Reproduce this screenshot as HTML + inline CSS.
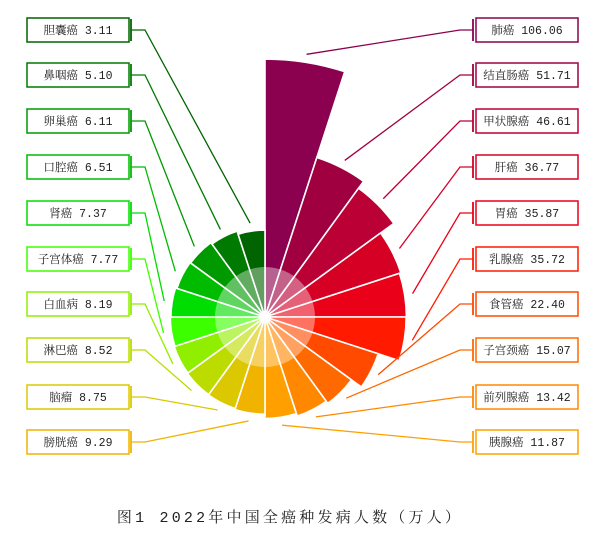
<!DOCTYPE html>
<html><head><meta charset="utf-8">
<style>
body{margin:0;background:#fff;width:615px;height:530px;overflow:hidden}
svg text{font-family:"Liberation Mono","Noto Serif CJK SC",serif;font-size:11.5px}
</style></head>
<body>
<svg id="s" width="615" height="530" xmlns="http://www.w3.org/2000/svg">
<g id="sec"></g>
<circle cx="265" cy="317" r="50" fill="rgba(255,255,255,0.38)"/>
<circle cx="265" cy="317" r="6" fill="#fff"/>
<g id="lines" fill="none" stroke-width="1.3"></g>
<g id="boxes" fill="#fff" stroke-width="1.5"></g>
<g text-anchor="middle" fill="#222">
<text x="78" y="34">胆囊癌 3.11</text>
<text x="78" y="79">鼻咽癌 5.10</text>
<text x="78" y="125">卵巢癌 6.11</text>
<text x="78" y="171">口腔癌 6.51</text>
<text x="78" y="217">肾癌 7.37</text>
<text x="78" y="263">子宫体癌 7.77</text>
<text x="78" y="308">白血病 8.19</text>
<text x="78" y="354">淋巴癌 8.52</text>
<text x="78" y="401">脑瘤 8.75</text>
<text x="78" y="446">膀胱癌 9.29</text>
<text x="527" y="34">肺癌 106.06</text>
<text x="527" y="79">结直肠癌 51.71</text>
<text x="527" y="125">甲状腺癌 46.61</text>
<text x="527" y="171">肝癌 36.77</text>
<text x="527" y="217">胃癌 35.87</text>
<text x="527" y="263">乳腺癌 35.72</text>
<text x="527" y="308">食管癌 22.40</text>
<text x="527" y="354">子宫颈癌 15.07</text>
<text x="527" y="401">前列腺癌 13.42</text>
<text x="527" y="446">胰腺癌 11.87</text>
<text x="290" y="522" style="font-size:15px;letter-spacing:3.2px">图1 2022年中国全癌种发病人数（万人）</text>
</g>
</svg>
<script>
var v=[106.06,51.71,46.61,36.77,35.87,35.72,22.40,15.07,13.42,11.87,9.29,8.75,8.52,8.19,7.77,7.37,6.51,6.11,5.10,3.11];
var c=["#8B004F","#A0003F","#BA0035","#D60025","#EA0018","#FF1A00","#FF4A00","#FF6A00","#FF8800","#FFA000","#F0B400","#DCC800","#BCDC00","#90EE00","#3CFF00","#00DD00","#00BB00","#009900","#007A00","#006400"];
var cx=265,cy=317,ns="http://www.w3.org/2000/svg";
var sec=document.getElementById("sec"),ln=document.getElementById("lines"),bx=document.getElementById("boxes");
function P(r,a){a=a*Math.PI/180;return [cx+r*Math.sin(a),cy-r*Math.cos(a)];}
var ys=[30,75,121,167,213,259,304,350,397,442];
for(var i=0;i<20;i++){
 var r=81.8+1.661*v[i],a0=i*18,a1=a0+18;
 var p0=P(r,a0),p1=P(r,a1);
 var p=document.createElementNS(ns,"path");
 p.setAttribute("d","M"+cx+","+cy+"L"+p0+"A"+r+","+r+" 0 0 1 "+p1+"Z");
 p.setAttribute("fill",c[i]);p.setAttribute("stroke","#fff");p.setAttribute("stroke-width","1.6");
 sec.appendChild(p);
 var e=P(r+8,a0+9),y,x0,x1,bxx;
 if(i<10){y=ys[i];x0=473;x1=460;bxx=476;}else{y=ys[19-i];x0=131;x1=145;bxx=27;}
 var l=document.createElementNS(ns,"polyline");
 l.setAttribute("points",x0+","+y+" "+x1+","+y+" "+e);l.setAttribute("stroke",c[i]);ln.appendChild(l);
 var t=document.createElementNS(ns,"line");
 t.setAttribute("x1",x0);t.setAttribute("x2",x0);t.setAttribute("y1",y-11);t.setAttribute("y2",y+11);
 t.setAttribute("stroke",c[i]);t.setAttribute("stroke-width","1.8");ln.appendChild(t);
 var b=document.createElementNS(ns,"rect");
 b.setAttribute("x",bxx);b.setAttribute("y",y-12);b.setAttribute("width",102);b.setAttribute("height",24);
 b.setAttribute("stroke",c[i]);bx.appendChild(b);
}
</script>
</body></html>
